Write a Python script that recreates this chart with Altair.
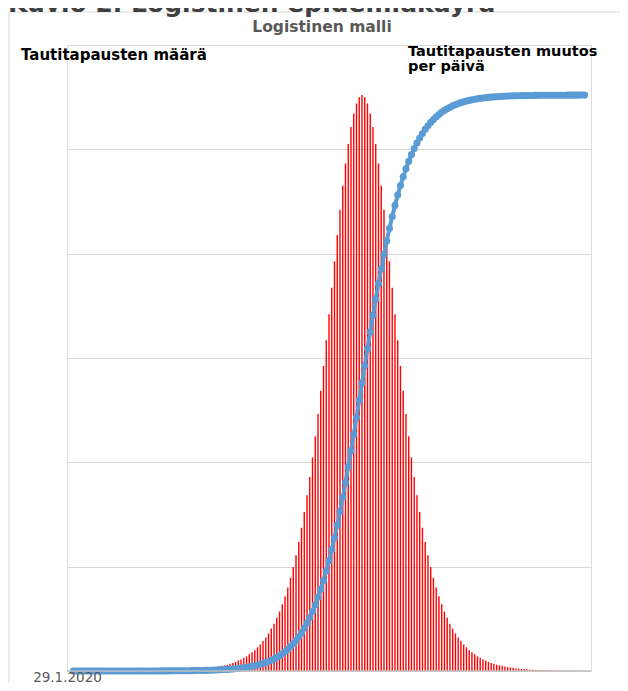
import altair as alt
import pandas as pd

# Daily change in cases (bars, right scale), one value per day from 29.1.2020
daily_change = (
    [0.0] * 24
    + [0.0, 0.0, 0.1, 0.1, 0.1, 0.1, 0.1, 0.1, 0.1, 0.1,
       0.1, 0.1, 0.2, 0.2, 0.2, 0.2, 0.3, 0.3, 0.3, 0.4,
       0.4, 0.5, 0.6, 0.6, 0.7, 0.8, 0.9, 1.0, 1.1, 1.3,
       1.5, 1.6, 1.8, 2.1, 2.3, 2.6, 3.0, 3.3, 3.8, 4.2,
       4.8, 5.4, 6.0, 6.8, 7.6, 8.6, 9.6, 10.8, 12.2, 13.6,
       15.3, 17.1, 19.2, 21.5, 24.0, 26.8, 29.9, 33.3, 37.1, 41.2,
       45.7, 50.5, 55.8, 61.4, 67.5, 73.9, 80.6, 87.7, 95.1, 102.6,
       110.2, 117.8, 125.4, 132.6, 139.5, 145.9, 151.5, 156.4, 160.3, 163.2,
       165.0]
    + [165.6]
    + [165.0, 163.2, 160.3, 156.4, 151.5, 145.9, 139.5, 132.6, 125.4, 117.8,
       110.2, 102.6, 95.1, 87.7, 80.6, 73.9, 67.5, 61.4, 55.8, 50.5,
       45.7, 41.2, 37.1, 33.3, 29.9, 26.8, 24.0, 21.5, 19.2, 17.1,
       15.3, 13.6, 12.2, 10.8, 9.6, 8.6, 7.6, 6.8, 6.0, 5.4,
       4.8, 4.2, 3.8, 3.3, 3.0, 2.6, 2.3, 2.1, 1.8, 1.6,
       1.5, 1.3, 1.1, 1.0, 0.9, 0.8, 0.7, 0.6, 0.6, 0.5,
       0.4, 0.4, 0.3, 0.3, 0.3, 0.2, 0.2, 0.2, 0.2, 0.1,
       0.1, 0.1, 0.1, 0.1, 0.1, 0.1, 0.1, 0.1, 0.1, 0.0, 0.0]
)

# Cumulative number of cases (line, left scale)
cumulative = [
    0.02, 0.02, 0.02, 0.03, 0.03, 0.03, 0.04, 0.04, 0.05, 0.06,
    0.06, 0.07, 0.08, 0.09, 0.10, 0.11, 0.13, 0.14, 0.16, 0.18,
    0.21, 0.23, 0.26, 0.30, 0.33, 0.38, 0.42, 0.48, 0.54, 0.6,
    0.7, 0.8, 0.9, 1.0, 1.1, 1.2, 1.4, 1.6, 1.8, 2.0,
    2.3, 2.5, 2.9, 3.3, 3.6, 4.1, 4.6, 5.2, 5.9, 6.7,
    7.5, 8.4, 9.5, 10.8, 12.1, 13.7, 15.4, 17.3, 19.5, 22.0,
    24.8, 28.0, 31.5, 35.5, 40.0, 45.1, 50.8, 57.1, 64.4, 72.4,
    81.6, 91.8, 103.3, 116.1, 130.6, 146.8, 165.0, 185.3, 208.0, 233.5,
    261.8, 293.4, 328.6, 367.7, 411.1, 459.1, 512.2, 570.8, 635.2, 705.8,
    783.0, 867.1, 958.5, 1057.4, 1163.7, 1277.7, 1399.4, 1528.4, 1664.5, 1807.2,
    1956.0, 2110.0, 2268.5, 2430.4, 2594.6,
    2760.0,
    2925.4, 3089.6, 3251.5, 3410.0, 3564.0, 3712.8, 3855.5, 3991.6, 4120.6, 4242.3,
    4356.3, 4462.6, 4561.5, 4652.9, 4737.0, 4814.2, 4884.8, 4949.2, 5007.8, 5060.9,
    5108.9, 5152.3, 5191.4, 5226.6, 5258.2, 5286.5, 5312.0, 5334.7, 5355.0, 5373.2,
    5389.4, 5403.9, 5416.7, 5428.2, 5438.4, 5447.6, 5455.6, 5462.9, 5469.2, 5474.9,
    5480.0, 5484.5, 5488.5, 5492.0, 5495.2, 5498.0, 5500.5, 5502.7, 5504.6, 5506.3,
    5507.9, 5509.2, 5510.5, 5511.6, 5512.5, 5513.3, 5514.1, 5514.8, 5515.4, 5515.9,
    5516.4, 5516.7, 5517.1, 5517.5, 5517.7, 5518.0, 5518.2, 5518.4, 5518.6, 5518.8,
    5518.9, 5519.0, 5519.1, 5519.2, 5519.3, 5519.4, 5519.5, 5519.5, 5519.6, 5519.6, 5519.7,
]

left_grid = [0, 1000, 2000, 3000, 4000, 5000, 6000]
first_date_label = "29.1.2020"
main_title = "Kuvio 2. Logistinen epidemiakäyrä"
chart_title = "Logistinen malli"
left_title = "Tautitapausten määrä"
right_title = ["Tautitapausten muutos", "per päivä"]

n = min(len(daily_change), len(cumulative))
df = pd.DataFrame({
    "day": list(range(n)),
    "daily": daily_change[:n],
    "cum": cumulative[:n],
})
one = pd.DataFrame({"k": [0]})

W, H = 524, 626
FONT = "DejaVu Sans"
xscale = alt.Scale(domain=[-0.5, n - 0.5], nice=False, zero=False)

frame = alt.Chart(one).mark_rect(
    fillOpacity=0, stroke="#D9D9D9", strokeWidth=1
).encode(x=alt.value(-58), x2=alt.value(900), y=alt.value(-33), y2=alt.value(900))

bars = alt.Chart(df).mark_bar(size=1.4, color="#FF0000").encode(
    x=alt.X("day:Q", scale=xscale, axis=None),
    y=alt.Y("daily:Q", scale=alt.Scale(domain=[0, 180], nice=False), axis=None),
)

line = alt.Chart(df).mark_line(
    color="#5B9BD5", strokeWidth=4,
    point=alt.OverlayMarkDef(filled=True, size=50, color="#5B9BD5", opacity=1),
).encode(
    x=alt.X("day:Q", scale=xscale, axis=None),
    y=alt.Y("cum:Q", scale=alt.Scale(domain=[0, 6000], nice=False),
            axis=alt.Axis(values=left_grid, labels=False, ticks=False, domain=False,
                          grid=True, gridColor="#D9D9D9", gridWidth=1, title=None)),
)

baseline = alt.Chart(one).mark_rule(color="#BFBFBF", strokeWidth=1.5).encode(
    x=alt.value(0), x2=alt.value(W), y=alt.value(H)
)

def txt(text, x, y, size, color, weight="bold", align="left"):
    return alt.Chart(one).mark_text(
        text=text, font=FONT, fontSize=size, fontWeight=weight, color=color,
        align=align, baseline="alphabetic",
    ).encode(x=alt.value(x), y=alt.value(y))

t_main = txt(main_title, -59, -33, 25, "#404040")
t_chart = txt(chart_title, 255, -13, 15.5, "#595959", align="center")
t_left = txt(left_title, -46, 15, 15, "#000000")
t_right1 = txt(right_title[0], 341, 11, 14.5, "#000000")
t_right2 = txt(right_title[1], 341, 26, 14.5, "#000000")
t_date = txt(first_date_label, 0.5, 637, 13.5, "#595959", weight="normal", align="center")

data_layers = alt.layer(bars, line).resolve_scale(y="independent")

chart = alt.layer(
    frame, data_layers, baseline, t_main, t_chart, t_left, t_right1, t_right2, t_date
).properties(
    width=W, height=H,
    padding={"left": 59, "top": 37, "right": 29, "bottom": 12},
    autosize=alt.AutoSizeParams(type="none"),
).configure_view(stroke=None).configure(background="white")

chart.save("out.html", embed_options={"renderer": "svg", "actions": False})
